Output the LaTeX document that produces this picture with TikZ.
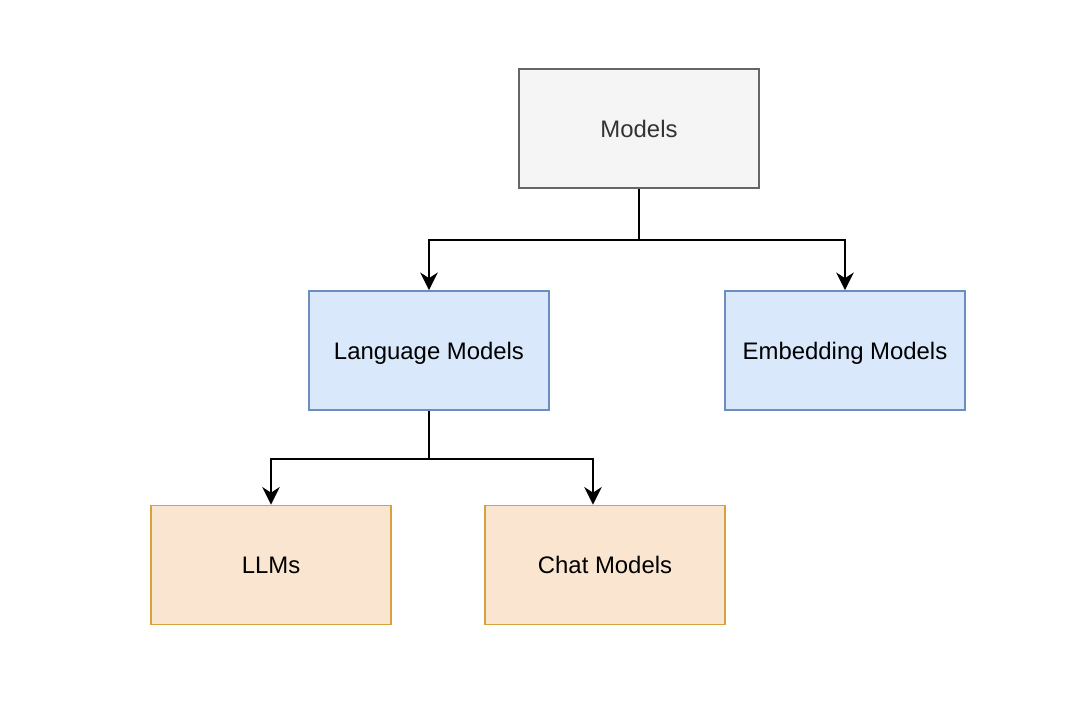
\documentclass[tikz,border=0pt]{standalone}
\usepackage{fontspec}
\setmainfont{Liberation Sans}
\usepackage{tikz}
\usetikzlibrary{arrows.meta, positioning}
\usepackage{xcolor}

\definecolor{greyfill}{HTML}{F5F5F5}
\definecolor{greyline}{HTML}{666666}
\definecolor{greytext}{HTML}{333333}
\definecolor{bluefill}{HTML}{DAE8FC}
\definecolor{blueline}{HTML}{6C8EBF}
\definecolor{orangefill}{HTML}{FAE6D0}
\definecolor{orangeline}{HTML}{D7A23C}

\begin{document}
\begin{tikzpicture}[
  box/.style={rectangle, minimum width=6cm, minimum height=2.975cm, line width=1.3pt,
    font=\fontsize{17}{20}\selectfont, inner sep=0pt, text depth=0pt},
  rootbox/.style={box, fill=greyfill, draw=greyline, text=greytext},
  midbox/.style={box, fill=bluefill, draw=blueline},
  leafbox/.style={box, fill=orangefill, draw=orangeline},
  arr/.style={line width=1.4pt, -{Stealth[length=12.5pt, width=12.5pt, inset=4pt]}}
]

  \useasboundingbox (0,0) rectangle (26.85,17.8);

  % Boxes
  \node[rootbox] (models) at (15.975,14.5875) {Models};
  \node[midbox] (lm) at (10.725,9.0375) {Language Models};
  \node[midbox] (emb) at (21.125,9.0375) {Embedding Models};
  \node[leafbox] (llms) at (6.775,3.675) {LLMs};
  \node[leafbox] (chat) at (15.125,3.675) {Chat Models};

  % Connectors
  \draw[arr] (models.south) -- ++(0,-1.275) -| (lm.north);
  \draw[arr] (models.south) -- ++(0,-1.275) -| (emb.north);
  \draw[arr] (lm.south) -- ++(0,-1.2) -| (llms.north);
  \draw[arr] (lm.south) -- ++(0,-1.2) -| ([xshift=-0.3cm]chat.north);

\end{tikzpicture}
\end{document}
